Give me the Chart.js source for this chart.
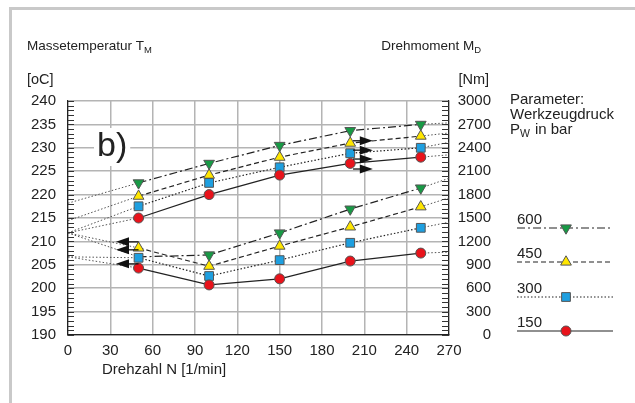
<!DOCTYPE html>
<html>
<head>
<meta charset="utf-8">
<script src="https://cdn.jsdelivr.net/npm/chart.js@4.4.0/dist/chart.umd.min.js"></script>
<style>
  html, body { margin: 0; padding: 0; background: #fff; }
  #wrap { width: 635px; height: 403px; position: relative; }
</style>
</head>
<body>
<div id="wrap"><canvas id="grafica" width="635" height="403"></canvas></div>
<script>
const FONT = "'Liberation Sans', Arial, sans-serif";

// Drehzahl N [1/min]
const drehzahl = [50, 100, 150, 200, 250];
const xTicks = [0, 30, 60, 90, 120, 150, 180, 210, 240, 270];

// Werkzeugdruck P_W [bar] (Reihenfolge der Kurven)
const druck = ["600", "450", "300", "150"];

// Drehmoment M_D [Nm] - obere Kurvenschar, rechte Achse
const md600 = [1950, 2200, 2430, 2620, 2700];
const md450 = [1780, 2050, 2280, 2460, 2550];
const md300 = [1650, 1950, 2150, 2330, 2400];
const md150 = [1500, 1800, 2050, 2200, 2280];
// Verlaengerung bis N = 0 und N = 270 (600, 450, 300, 150)
const mdLinks = [1690, 1465, 1310, 1310];
const mdRechts = [2720, 2590, 2470, 2310];

// Massetemperatur T_M [oC] - untere Kurvenschar, linke Achse
const tm600 = [206.7, 207.1, 211.8, 216.9, 221.4];
const tm450 = [208.6, 204.7, 209.0, 213.1, 217.4];
const tm300 = [206.5, 202.6, 206.0, 209.7, 212.9];
const tm150 = [204.3, 200.7, 202.0, 205.8, 207.5];
const tmLinks = [211.8, 211.8, 206.7, 206.7];
const tmRechts = [223.5, 219.3, 214.1, 207.7];

// Pfeile (Achsenzuordnung)
const pfeilRechtsN = [202, 216];
const pfeilRechtsMd = [2490, 2370, 2256, 2128];
const pfeilLinksN = [50, 34];
const pfeilLinksTm = [209.9, 208.2, 205.2];

// Achsen
const tmTicks = [190, 240, 5];
const mdTicks = [0, 3000, 300];

// Stil je Werkzeugdruck
const stil = {
  "600": { farbe: "#179a45", form: "triangle", rot: 180, radius: 6.2, dash: [8, 3, 2, 3] },
  "450": { farbe: "#ffe600", form: "triangle", rot: 0, radius: 6.2, dash: [5, 3] },
  "300": { farbe: "#1e9fe0", form: "rect", rot: 0, radius: 6.2, dash: [1.5, 2] },
  "150": { farbe: "#e8131b", form: "circle", rot: 0, radius: 5, dash: [] },
};

function serie(werte, links, rechts) {
  return [{ x: 0, y: links }]
    .concat(drehzahl.map((n, i) => ({ x: n, y: werte[i] })))
    .concat([{ x: 270, y: rechts }]);
}

function datensatz(p, werte, links, rechts, achse, versteckt) {
  const s = stil[p];
  const last = werte.length + 1;
  const radien = [0].concat(werte.map((_, i) => (versteckt === i ? 0 : s.radius))).concat([0]);
  const istEnde = ctx => ctx.p0DataIndex === 0 || ctx.p1DataIndex === last;
  return {
    label: p,
    data: serie(werte, links, rechts),
    yAxisID: achse,
    borderColor: "#222",
    borderWidth: 1.2,
    borderDash: s.dash,
    pointStyle: s.form,
    rotation: s.rot,
    pointRadius: radien,
    pointBackgroundColor: s.farbe,
    pointBorderColor: "#555",
    pointBorderWidth: 1,
    tension: 0,
    segment: {
      borderDash: ctx => istEnde(ctx) ? [1.5, 2] : s.dash,
      borderWidth: ctx => istEnde(ctx) ? 1 : 1.2,
      borderColor: ctx => istEnde(ctx) ? "#555" : "#222",
    },
  };
}

const datasets = [
  datensatz("150", md150, mdLinks[3], mdRechts[3], "yM"),
  datensatz("300", md300, mdLinks[2], mdRechts[2], "yM"),
  datensatz("450", md450, mdLinks[1], mdRechts[1], "yM"),
  datensatz("600", md600, mdLinks[0], mdRechts[0], "yM"),
  datensatz("150", tm150, tmLinks[3], tmRechts[3], "yT"),
  datensatz("300", tm300, tmLinks[2], tmRechts[2], "yT"),
  datensatz("450", tm450, tmLinks[1], tmRechts[1], "yT"),
  datensatz("600", tm600, tmLinks[0], tmRechts[0], "yT", 0),
];

function textSub(ctx, main, sub, x, y, size, align) {
  ctx.font = `${size}px ${FONT}`;
  ctx.textBaseline = "middle";
  ctx.textAlign = "left";
  const w = ctx.measureText(main).width;
  ctx.font = `${size * 0.7}px ${FONT}`;
  const ws = ctx.measureText(sub).width;
  const x0 = align === "right" ? x - w - ws : x;
  ctx.font = `${size}px ${FONT}`;
  ctx.fillText(main, x0, y);
  ctx.font = `${size * 0.7}px ${FONT}`;
  ctx.fillText(sub, x0 + w, y + size * 0.3);
  return x0 + w + ws;
}

function pfeil(ctx, x0, x1, y) {
  const dir = Math.sign(x1 - x0);
  ctx.save();
  ctx.strokeStyle = "#111";
  ctx.fillStyle = "#111";
  ctx.lineWidth = 1.3;
  ctx.setLineDash([]);
  ctx.beginPath();
  ctx.moveTo(x0, y);
  ctx.lineTo(x1 - dir * 10, y);
  ctx.stroke();
  ctx.beginPath();
  ctx.moveTo(x1, y);
  ctx.lineTo(x1 - dir * 13, y - 4.5);
  ctx.lineTo(x1 - dir * 13, y + 4.5);
  ctx.closePath();
  ctx.fill();
  ctx.restore();
}

const deko = {
  id: "deko",
  beforeDraw(chart) {
    const ctx = chart.ctx;
    ctx.save();
    ctx.fillStyle = "#fff";
    ctx.fillRect(0, 0, chart.width, chart.height);
    ctx.fillStyle = "#c9c9c9";
    ctx.fillRect(9, 7, chart.width - 9, 3);
    ctx.fillRect(9, 7, 3, chart.height - 7);
    ctx.restore();
  },
  afterDatasetsDraw(chart) {
    const ctx = chart.ctx;
    const x = chart.scales.x, yT = chart.scales.yT, yM = chart.scales.yM;
    const a = chart.chartArea;

    // Nebenteilstriche
    ctx.save();
    ctx.strokeStyle = "#333";
    ctx.lineWidth = 1;
    for (let v = tmTicks[0]; v <= tmTicks[1]; v += 1) {
      const py = Math.round(yT.getPixelForValue(v)) + 0.5;
      ctx.beginPath(); ctx.moveTo(a.left, py); ctx.lineTo(a.left + 6, py); ctx.stroke();
    }
    for (let v = mdTicks[0]; v <= mdTicks[1]; v += 60) {
      const py = Math.round(yM.getPixelForValue(v)) + 0.5;
      ctx.beginPath(); ctx.moveTo(a.right - 7, py); ctx.lineTo(a.right, py); ctx.stroke();
    }
    ctx.restore();

    // Pfeile
    pfeilRechtsMd.forEach(v => pfeil(ctx, x.getPixelForValue(pfeilRechtsN[0]), x.getPixelForValue(pfeilRechtsN[1]), yM.getPixelForValue(v)));
    pfeilLinksTm.forEach(v => pfeil(ctx, x.getPixelForValue(pfeilLinksN[0]), x.getPixelForValue(pfeilLinksN[1]), yT.getPixelForValue(v)));

    // b)
    ctx.save();
    ctx.font = `34px ${FONT}`;
    ctx.textBaseline = "middle";
    ctx.textAlign = "left";
    const bw = ctx.measureText("b)").width;
    ctx.fillStyle = "#fff";
    ctx.fillRect(94, 128, bw + 6, 38);
    ctx.fillStyle = "#222";
    ctx.fillText("b)", 97, 147);
    ctx.restore();
  },
  afterDraw(chart) {
    const ctx = chart.ctx;
    ctx.save();
    ctx.fillStyle = "#222";
    textSub(ctx, "Massetemperatur T", "M", 27, 46, 13.5);
    textSub(ctx, "Drehmoment M", "D", 481, 46, 13.5, "right");
    ctx.font = `14.5px ${FONT}`;
    ctx.textBaseline = "middle";
    ctx.textAlign = "left";
    ctx.fillText("[oC]", 27, 80);
    ctx.textAlign = "right";
    ctx.fillText("[Nm]", 489, 80);
    ctx.textAlign = "left";
    ctx.font = `15px ${FONT}`;
    ctx.fillText("Parameter:", 510, 100);
    ctx.fillText("Werkzeugdruck", 510, 115);
    const px = textSub(ctx, "P", "W", 510, 130, 15);
    ctx.font = `15px ${FONT}`;
    ctx.fillText("in bar", px + 5, 130);
    ctx.fillText("Drehzahl N [1/min]", 102, 370);

    // Legende
    const legY = [228, 262, 297, 331];
    druck.forEach((p, i) => {
      const s = stil[p];
      const y = legY[i];
      ctx.fillStyle = "#222";
      ctx.font = `15px ${FONT}`;
      ctx.textAlign = "left";
      ctx.textBaseline = "alphabetic";
      ctx.fillText(p, 517, y - 4);
      ctx.strokeStyle = "#222";
      ctx.lineWidth = 1.2;
      ctx.setLineDash(s.dash);
      ctx.beginPath(); ctx.moveTo(517, y); ctx.lineTo(613, y); ctx.stroke();
      ctx.setLineDash([]);
      ctx.fillStyle = s.farbe;
      ctx.strokeStyle = "#555";
      ctx.lineWidth = 1;
      Chart.helpers.drawPoint(ctx, { pointStyle: s.form, radius: s.radius, rotation: s.rot, borderWidth: 1 }, 566, y);
    });
    ctx.restore();
  },
};

const tickFont = { family: FONT, size: 15 };

new Chart(document.getElementById("grafica").getContext("2d"), {
  type: "line",
  data: { datasets },
  plugins: [deko],
  options: {
    responsive: false,
    animation: false,
    layout: { padding: { left: 0, right: 144, top: 101, bottom: 0 } },
    plugins: { legend: { display: false }, tooltip: { enabled: false } },
    scales: {
      x: {
        type: "linear",
        min: 0, max: 270,
        afterBuildTicks: s => { s.ticks = xTicks.map(v => ({ value: v })); },
        afterFit: s => { s.height = 68; },
        grid: { color: "#b4b4b4", lineWidth: 1.5, drawTicks: false },
        border: { color: "#222", width: 1.2 },
        ticks: { font: tickFont, color: "#222", padding: 7, maxRotation: 0 },
      },
      yT: {
        position: "left",
        min: tmTicks[0], max: tmTicks[1],
        ticks: { stepSize: tmTicks[2], font: tickFont, color: "#222", padding: 12 },
        afterFit: s => { s.width = 68; },
        grid: { color: "#b4b4b4", lineWidth: 1.5, drawTicks: false },
        border: { color: "#222", width: 1.2 },
      },
      yM: {
        position: "right",
        min: mdTicks[0], max: mdTicks[1],
        ticks: { stepSize: mdTicks[2], font: tickFont, color: "#222", padding: 8, crossAlign: "far", callback: v => String(v) },
        afterFit: s => { s.width = 42; },
        grid: { drawOnChartArea: false, drawTicks: false },
        border: { color: "#222", width: 1.2 },
      },
    },
  },
});
</script>
</body>
</html>
